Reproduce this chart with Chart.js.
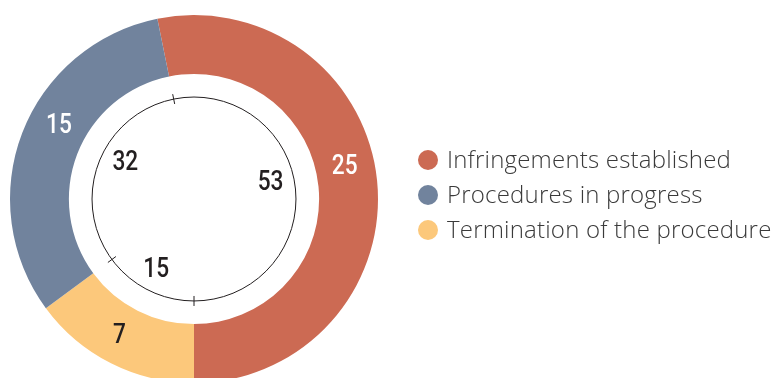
<!DOCTYPE html>
<html>
<head>
<meta charset="utf-8">
<script src="https://cdn.jsdelivr.net/npm/chart.js@4.4.1/dist/chart.umd.min.js"></script>
<style>
  html, body { margin: 0; padding: 0; background: #fff; overflow: hidden; }
  #wrap { position: relative; width: 771px; height: 400px; }
  #legend { position: absolute; left: 418px; top: 142px; font-family: "Open Sans", sans-serif;
    font-weight: 300; font-size: 24px; letter-spacing: 0.2px; color: #3a3a3a; }
  #legend div { height: 35px; line-height: 34px; white-space: nowrap; }
  #legend span { display: inline-block; width: 20px; height: 20px; border-radius: 50%;
    vertical-align: -2px; margin-right: 9px; }
</style>
</head>
<body>
<div id="wrap">
  <canvas id="chart" width="771" height="400"></canvas>
  <div id="legend"></div>
</div>
<script>
// slices in clockwise drawing order
const categories = ['Infringements established', 'Termination of the procedure', 'Procedures in progress']
const counts = [25, 7, 15]
const colors = ['#cc6a53', '#fcc87b', '#71839d']
const labelColors = ['#ffffff', '#231f20', '#ffffff']
const legendOrder = [0, 2, 1]

const total = counts.reduce((a, b) => a + b, 0)
const percents = counts.map(v => Math.round(v / total * 100))

// small angular nudges (degrees) for the value labels
const nudges = [-7, 2, 8]

const ringLabels = {
  id: 'ringLabels',
  afterDatasetsDraw (chart) {
    const { ctx } = chart
    const meta = chart.getDatasetMeta(0)
    const arcs = meta.data
    const cx = arcs[0].x
    const cy = arcs[0].y
    const outer = arcs[0].outerRadius
    const inner = arcs[0].innerRadius
    const circleR = inner * 0.815

    ctx.save()
    // thin inner circle
    ctx.strokeStyle = '#231f20'
    ctx.lineWidth = 1
    ctx.beginPath()
    ctx.arc(cx, cy, circleR, 0, Math.PI * 2)
    ctx.stroke()

    // ticks at slice boundaries
    arcs.forEach(a => {
      const ang = a.startAngle
      ctx.beginPath()
      ctx.moveTo(cx + Math.cos(ang) * (circleR - 5), cy + Math.sin(ang) * (circleR - 5))
      ctx.lineTo(cx + Math.cos(ang) * (circleR + 5), cy + Math.sin(ang) * (circleR + 5))
      ctx.stroke()
    })

    // condensed numerals: medium face squeezed horizontally
    ctx.font = '500 27px Roboto, "Liberation Sans", sans-serif'
    ctx.textAlign = 'center'
    ctx.textBaseline = 'middle'
    const text = (s, x, y, color) => {
      ctx.save()
      ctx.translate(x, y)
      ctx.scale(0.84, 1)
      ctx.fillStyle = color
      ctx.fillText(s, 0, 0)
      ctx.restore()
    }
    arcs.forEach((a, i) => {
      const mid = (a.startAngle + a.endAngle) / 2 + nudges[i] * Math.PI / 180
      const rOut = (outer + inner) / 2
      text(String(counts[i]), cx + Math.cos(mid) * rOut, cy + Math.sin(mid) * rOut + 2, labelColors[i])
      const rIn = circleR * 0.77
      text(String(percents[i]), cx + Math.cos(mid) * rIn, cy + Math.sin(mid) * rIn + 2, '#231f20')
    })
    ctx.restore()
  }
}

new Chart(document.getElementById('chart'), {
  type: 'doughnut',
  data: {
    labels: categories,
    datasets: [{
      data: counts,
      backgroundColor: colors,
      borderWidth: 0,
      hoverOffset: 0
    }]
  },
  options: {
    responsive: false,
    animation: false,
    cutout: '68%',
    rotation: 180 - counts[0] / total * 360,
    layout: { padding: { left: 10, right: 393, top: 15, bottom: 17 } },
    plugins: {
      legend: { display: false },
      tooltip: { enabled: false }
    }
  },
  plugins: [ringLabels]
})

const legend = document.getElementById('legend')
legendOrder.forEach(i => {
  const row = document.createElement('div')
  const dot = document.createElement('span')
  dot.style.background = colors[i]
  row.appendChild(dot)
  row.appendChild(document.createTextNode(categories[i]))
  legend.appendChild(row)
})
</script>
</body>
</html>
